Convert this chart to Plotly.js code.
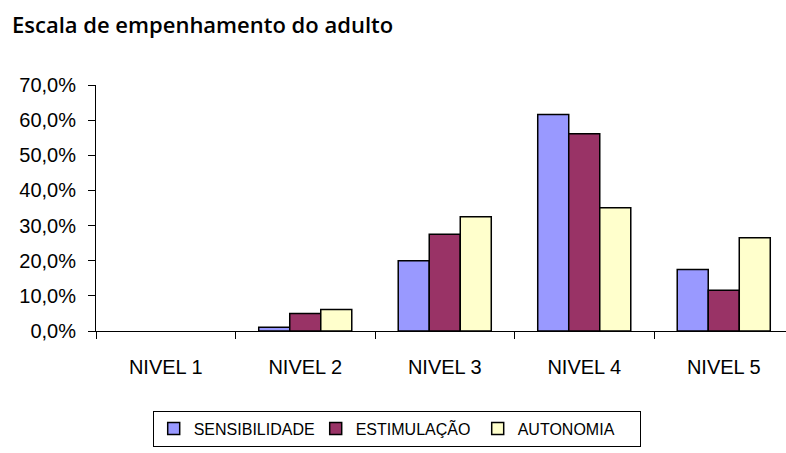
<!DOCTYPE html>
<html>
<head>
<meta charset="utf-8">
<script src="https://cdn.plot.ly/plotly-3.0.1.min.js"></script>
<style>html,body{margin:0;padding:0;background:#fff;}#chart{width:786px;height:453px;}</style>
</head>
<body>
<div id="chart"></div>
<script>
const categories = ["NIVEL 1", "NIVEL 2", "NIVEL 3", "NIVEL 4", "NIVEL 5"];
const seriesNames = ["SENSIBILIDADE", "ESTIMULAÇÃO", "AUTONOMIA"];
// NIVEL 1 has no bar drawn in the reference (no value)
const sensibilidade = [null, 1.1, 20.0, 61.6, 17.5];
const estimulacao = [null, 5.0, 27.5, 56.1, 11.6];
const autonomia = [null, 6.1, 32.5, 35.1, 26.5];
const seriesColors = ["#9999FF", "#993366", "#FFFFCC"];
const yTickVals = [0, 10, 20, 30, 40, 50, 60, 70];
const yTickText = ["0,0%", "10,0%", "20,0%", "30,0%", "40,0%", "50,0%", "60,0%", "70,0%"];

const values = [sensibilidade, estimulacao, autonomia];
const traces = values.map((v, i) => ({
  type: "bar",
  name: seriesNames[i],
  x: categories,
  y: v,
  marker: {color: seriesColors[i], line: {color: "#000000", width: 1.5}},
  hoverinfo: "x+y+name"
}));

const W = 786, H = 453;
const plotL = 96, plotR = 786, plotT = 85.3, plotB = 331.3;
const catW = 139.5;
const xMax = -0.5 + (plotR - plotL) / catW;
const pw = plotR - plotL, ph = plotB - plotT;

const layout = {
  width: W, height: H,
  margin: {l: plotL, r: W - plotR, t: plotT, b: H - plotB, pad: 0},
  paper_bgcolor: "#ffffff",
  plot_bgcolor: "#ffffff",
  font: {family: "Liberation Sans, Arial, sans-serif", color: "#000000", size: 18},
  title: {
    text: "Escala de empenhamento do adulto",
    font: {family: "Open Sans, sans-serif", size: 22, weight: 600, color: "#000000"},
    xref: "container", yref: "container",
    x: 12 / W, xanchor: "left",
    y: 1 - 25 / H, yanchor: "middle"
  },
  barmode: "group",
  bargap: 0.333,
  bargroupgap: 0,
  xaxis: {
    type: "category",
    range: [-0.5, xMax],
    showline: true, linecolor: "#000000", linewidth: 1,
    ticks: "outside", ticklen: 7, tickcolor: "#000000", tickwidth: 1,
    tickson: "boundaries",
    ticklabelstandoff: 18,
    showgrid: false, zeroline: false,
    tickfont: {family: "Liberation Sans, Arial, sans-serif", size: 20, color: "#000000"},
    automargin: false
  },
  yaxis: {
    range: [0, 70],
    tickvals: yTickVals, ticktext: yTickText,
    showline: true, linecolor: "#000000", linewidth: 1,
    ticks: "outside", ticklen: 7, tickcolor: "#000000", tickwidth: 1,
    ticklabelstandoff: 8,
    showgrid: false, zeroline: false,
    tickfont: {family: "Liberation Sans, Arial, sans-serif", size: 20, color: "#000000"},
    automargin: false
  },
  showlegend: true,
  legend: {
    orientation: "h",
    x: (152.7 - plotL) / pw, xanchor: "left",
    y: (plotB - 411) / ph, yanchor: "top",
    bordercolor: "#000000", borderwidth: 1,
    bgcolor: "#ffffff",
    font: {family: "Liberation Sans, Arial, sans-serif", size: 16, color: "#000000"},
    entrywidth: 117, entrywidthmode: "pixels",
    traceorder: "normal"
  }
};

Plotly.newPlot("chart", traces, layout, {displayModeBar: false, staticPlot: true});
</script>
</body>
</html>
